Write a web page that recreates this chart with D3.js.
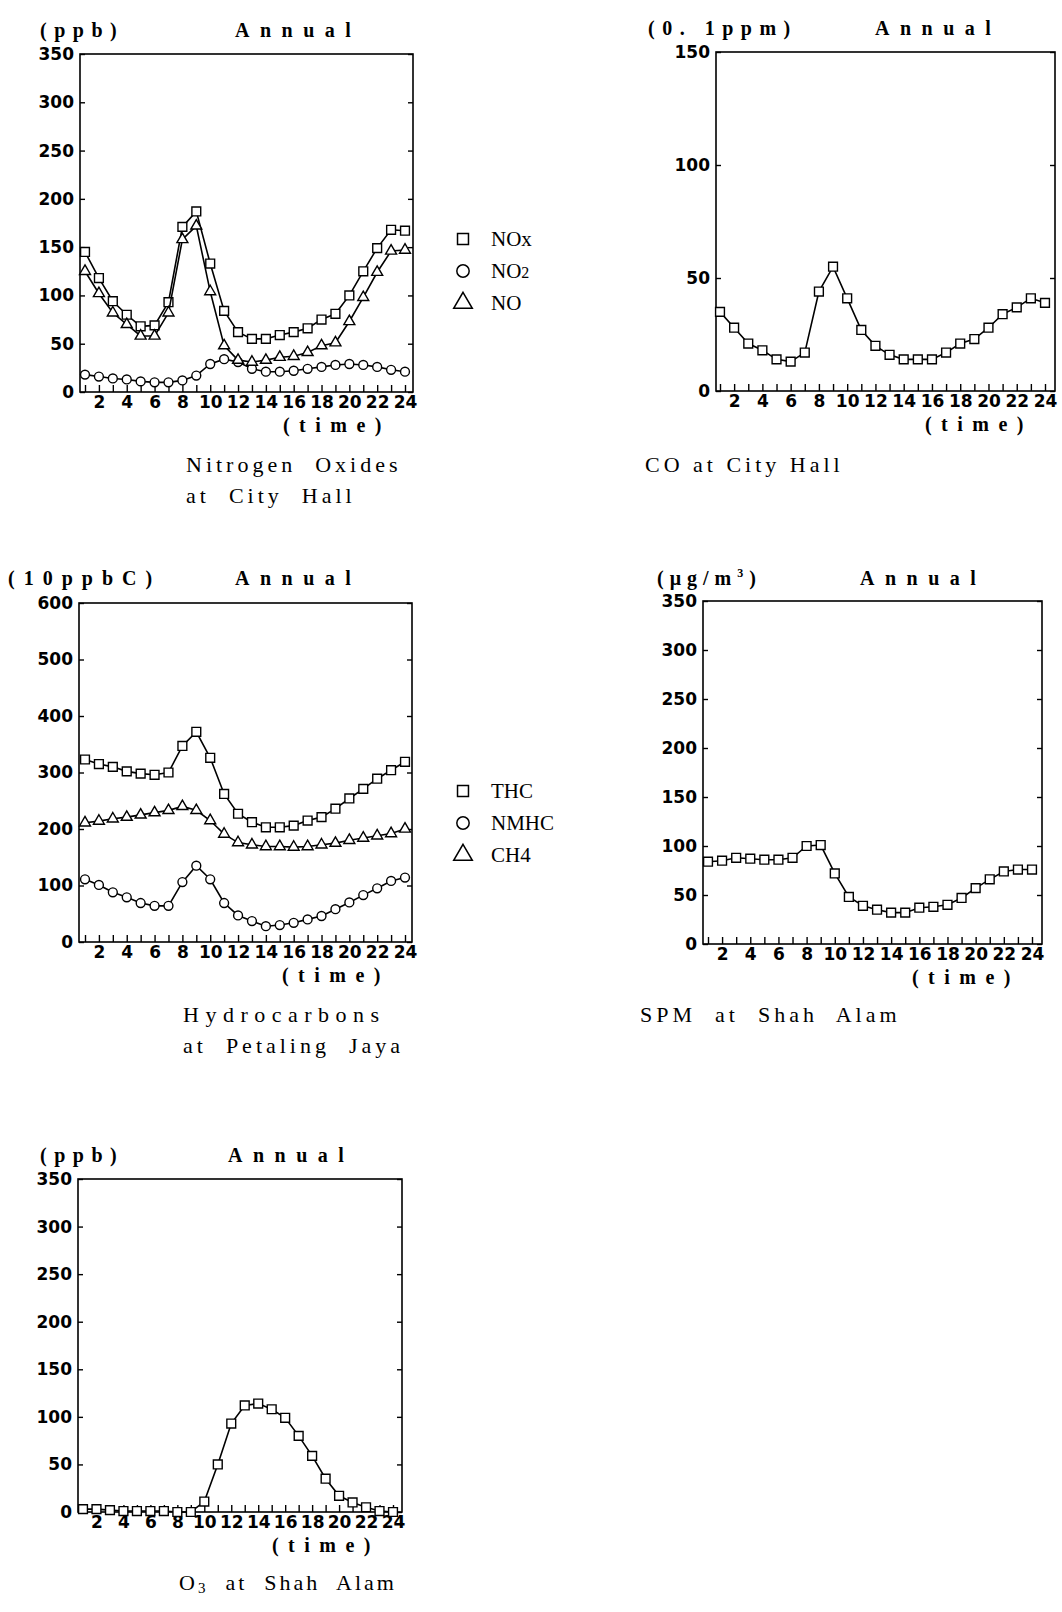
<!DOCTYPE html>
<html lang="en">
<head>
<meta charset="UTF-8">
<title>Annual diurnal variation of air pollutants</title>
<script src="https://d3js.org/d3.v7.min.js"></script>
<style>
  body { margin: 0; background: #fff; }
  svg { display: block; }
  .axis text { font-family: "DejaVu Sans", sans-serif; font-weight: bold; font-size: 17px; fill: #000; }
  .axis line { stroke: #000; stroke-width: 1.4; }
  .unit, .annual, .time-label { font-family: "Liberation Serif", serif; font-weight: bold; font-size: 20px; white-space: pre; }
  .caption { font-family: "Liberation Serif", serif; font-size: 22px; white-space: pre; }
  .legend text { font-family: "Liberation Serif", serif; font-size: 21px; }
</style>
</head>
<body>
<script>
// hours of the day
const hours = d3.range(1, 25);

// Nitrogen oxides at City Hall (ppb)
const noxValues = [145, 118, 94, 80, 68, 69, 93, 171, 187, 133, 84, 62, 55, 55, 59, 62, 66, 75, 81, 100, 125, 149, 168, 167];
const no2Values = [18, 16, 14, 13, 11, 10, 10, 12, 17, 29, 34, 31, 24, 21, 21, 22, 24, 26, 28, 29, 28, 26, 23, 21];
const noValues = [125, 102, 82, 70, 58, 58, 82, 158, 172, 104, 48, 33, 31, 33, 36, 37, 41, 48, 51, 73, 98, 124, 146, 147];

// CO at City Hall (0.1 ppm)
const coValues = [35, 28, 21, 18, 14, 13, 17, 44, 55, 41, 27, 20, 16, 14, 14, 14, 17, 21, 23, 28, 34, 37, 41, 39];

// Hydrocarbons at Petaling Jaya (10 ppbC)
const thcValues = [323, 315, 310, 302, 298, 296, 300, 347, 372, 326, 262, 227, 212, 203, 203, 206, 215, 221, 236, 254, 271, 289, 304, 319];
const nmhcValues = [111, 101, 88, 79, 69, 64, 64, 106, 135, 111, 69, 47, 37, 28, 30, 34, 40, 46, 58, 70, 83, 95, 108, 114];
const ch4Values = [211, 214, 218, 221, 225, 229, 233, 240, 233, 215, 191, 176, 172, 169, 169, 168, 169, 172, 175, 180, 184, 188, 192, 200];

// SPM at Shah Alam (ug/m3)
const spmValues = [84, 85, 88, 87, 86, 86, 88, 100, 101, 72, 48, 39, 35, 32, 32, 37, 38, 40, 47, 57, 66, 74, 76, 76];

// O3 at Shah Alam (ppb)
const o3Values = [3, 3, 2, 1, 1, 1, 1, 0, 0, 11, 50, 93, 112, 114, 108, 99, 80, 59, 35, 17, 10, 5, 1, 0];

const ticks350 = [0, 50, 100, 150, 200, 250, 300, 350];
const ticks150 = [0, 50, 100, 150];
const ticks600 = [0, 100, 200, 300, 400, 500, 600];

const width = 1062;
const height = 1612;

const svg = d3.select("body").append("svg")
    .attr("width", width)
    .attr("height", height);

const symbolTypes = {
    square: d3.symbolSquare,
    circle: d3.symbolCircle,
    triangle: d3.symbolTriangle
};
const markerSize = { square: 78, circle: 62, triangle: 52 };

const panels = [
    {
        unit: ["(ppb)"], yMax: 350, yTicks: ticks350,
        series: [
            { values: noxValues, symbol: "square", name: ["NOx"] },
            { values: no2Values, symbol: "circle", name: ["NO", "2"] },
            { values: noValues, symbol: "triangle", name: ["NO"] }
        ],
        caption: ["Nitrogen  Oxides", "at  City  Hall"], captionSpacing: [4, 4],
        frame: [80, 54, 413, 392], xEnds: [85, 405],
        unitPos: [40, 37], unitSpacing: 7.5, annualX: 235,
        captionPos: [186, 472], legendPos: [463, 239]
    },
    {
        unit: ["(0. 1ppm)"], yMax: 150, yTicks: ticks150,
        series: [{ values: coValues, symbol: "square" }],
        caption: ["CO at City Hall"], captionSpacing: [4],
        frame: [716, 52, 1055, 391], xEnds: [720, 1045],
        unitPos: [648, 35], unitSpacing: 7.5, annualX: 875,
        captionPos: [645, 472]
    },
    {
        unit: ["(10ppbC)"], yMax: 600, yTicks: ticks600,
        series: [
            { values: thcValues, symbol: "square", name: ["THC"] },
            { values: nmhcValues, symbol: "circle", name: ["NMHC"] },
            { values: ch4Values, symbol: "triangle", name: ["CH4"] }
        ],
        caption: ["Hydrocarbons", "at  Petaling  Jaya"], captionSpacing: [6.5, 4],
        frame: [79, 603, 412, 942], xEnds: [85, 405],
        unitPos: [8, 585], unitSpacing: 9, annualX: 235,
        captionPos: [183, 1022], legendPos: [463, 791]
    },
    {
        unit: ["(μg/m", "3", ")"], yMax: 350, yTicks: ticks350,
        series: [{ values: spmValues, symbol: "square" }],
        caption: ["SPM  at  Shah  Alam"], captionSpacing: [4],
        frame: [703, 601, 1042, 944], xEnds: [708, 1032],
        unitPos: [657, 585], unitSpacing: 6, annualX: 860,
        captionPos: [640, 1022]
    },
    {
        unit: ["(ppb)"], yMax: 350, yTicks: ticks350,
        series: [{ values: o3Values, symbol: "square" }],
        caption: ["O3  at  Shah  Alam"], captionSpacing: [3],
        frame: [78, 1179, 402, 1512], xEnds: [83, 393],
        unitPos: [40, 1162], unitSpacing: 7.5, annualX: 228,
        captionPos: [179, 1590]
    }
];

panels.forEach(drawPanel);

function drawPanel(p) {
    const [left, top, right, bottom] = p.frame;
    const x = d3.scaleLinear().domain([1, 24]).range(p.xEnds);
    const y = d3.scaleLinear().domain([0, p.yMax]).range([bottom, top]);
    const g = svg.append("g");

    // frame
    g.append("rect")
        .attr("x", left).attr("y", top)
        .attr("width", right - left).attr("height", bottom - top)
        .attr("fill", "none").attr("stroke", "#000").attr("stroke-width", 1.6);

    // axes with inward ticks
    const yAxis = g.append("g").attr("class", "axis")
        .attr("transform", `translate(${left},0)`)
        .call(d3.axisLeft(y).tickValues(p.yTicks).tickSize(-5).tickPadding(6));
    yAxis.select(".domain").remove();

    const yAxisRight = g.append("g").attr("class", "axis")
        .attr("transform", `translate(${right},0)`)
        .call(d3.axisRight(y).tickValues(p.yTicks).tickSize(-5).tickFormat(""));
    yAxisRight.select(".domain").remove();

    const xAxis = g.append("g").attr("class", "axis")
        .attr("transform", `translate(0,${bottom})`)
        .call(d3.axisBottom(x).tickValues(hours).tickSize(-7).tickPadding(4)
            .tickFormat(d => d % 2 === 0 ? d : ""));
    xAxis.select(".domain").remove();

    // titles above the frame
    const unit = g.append("text").attr("class", "unit")
        .attr("x", p.unitPos[0]).attr("y", p.unitPos[1])
        .attr("letter-spacing", p.unitSpacing);
    unit.append("tspan").text(p.unit[0]);
    if (p.unit.length > 1) {
        unit.append("tspan").attr("font-size", 12).attr("dy", -8).text(p.unit[1]);
        unit.append("tspan").attr("dy", 8).text(p.unit[2]);
    }
    g.append("text").attr("class", "annual")
        .attr("x", p.annualX).attr("y", p.unitPos[1])
        .attr("letter-spacing", 10.5)
        .text("Annual");
    g.append("text").attr("class", "time-label")
        .attr("x", right - 76).attr("y", bottom + 40)
        .attr("text-anchor", "middle")
        .attr("letter-spacing", 9.5)
        .text("(time)");

    // lines and markers
    const line = d3.line().x((d, i) => x(hours[i])).y(d => y(d));
    p.series.forEach(s => {
        g.append("path")
            .attr("d", line(s.values))
            .attr("fill", "none").attr("stroke", "#000").attr("stroke-width", 1.6);
        g.append("g").selectAll("path")
            .data(s.values)
            .join("path")
            .attr("transform", (d, i) => `translate(${x(hours[i])},${y(d)})`)
            .attr("d", d3.symbol().type(symbolTypes[s.symbol]).size(markerSize[s.symbol])())
            .attr("fill", "#fff").attr("stroke", "#000").attr("stroke-width", 1.4);
    });

    // legend
    if (p.legendPos) {
        const lg = g.append("g").attr("class", "legend")
            .attr("transform", `translate(${p.legendPos[0]},${p.legendPos[1]})`);
        p.series.forEach((s, i) => {
            const row = lg.append("g").attr("transform", `translate(0,${i * 32})`);
            row.append("path")
                .attr("d", d3.symbol().type(symbolTypes[s.symbol])
                    .size(s.symbol === "triangle" ? 150 : 120)())
                .attr("fill", "none").attr("stroke", "#000").attr("stroke-width", 1.5);
            const t = row.append("text").attr("x", 28).attr("y", 7);
            t.append("tspan").text(s.name[0]);
            if (s.name.length > 1) t.append("tspan").attr("font-size", 16).text(s.name[1]);
        });
    }

    // caption below
    p.caption.forEach((c, i) => {
        const t = g.append("text").attr("class", "caption")
            .attr("letter-spacing", p.captionSpacing[i])
            .attr("x", p.captionPos[0]).attr("y", p.captionPos[1] + i * 31);
        if (c.startsWith("O3")) {
            t.append("tspan").text("O");
            t.append("tspan").attr("font-size", 15).attr("dy", 3).text("3");
            t.append("tspan").attr("dy", -3).text(c.slice(2));
        } else {
            t.text(c);
        }
    });
}
</script>
</body>
</html>
